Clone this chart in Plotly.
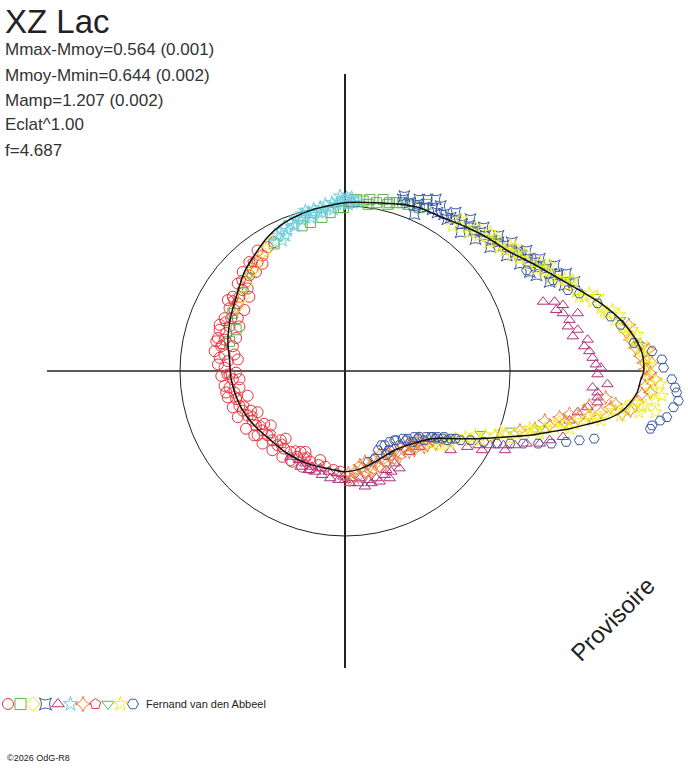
import plotly.graph_objects as go

W, H = 688, 768
FONT = "Liberation Sans, Arial, sans-serif"

# fitted mean curve, unit circle = mean magnitude
curve_x = [1.81, 1.80, 1.75, 1.67, 1.55, 1.42, 1.28, 1.14, 1.00, 0.86, 0.74, 0.59, 0.45, 0.33, 0.18, 0.00,
           -0.15, -0.27, -0.38, -0.47, -0.55, -0.61, -0.65, -0.69, -0.71, -0.70, -0.69, -0.65, -0.60, -0.53,
           -0.45, -0.35, -0.23, -0.11, 0.00, 0.10, 0.20, 0.30, 0.41, 0.53, 0.67, 0.82, 0.97, 1.12, 1.24, 1.36,
           1.48, 1.59, 1.67, 1.73, 1.77, 1.79, 1.81]
curve_y = [0.00, 0.11, 0.21, 0.31, 0.41, 0.49, 0.57, 0.65, 0.72, 0.81, 0.87, 0.93, 0.99, 1.01, 1.02, 1.02,
           0.99, 0.95, 0.89, 0.81, 0.70, 0.60, 0.48, 0.34, 0.19, 0.07, -0.05, -0.18, -0.27, -0.35,
           -0.42, -0.50, -0.56, -0.59, -0.61, -0.59, -0.54, -0.48, -0.44, -0.41, -0.41, -0.41, -0.40, -0.39, -0.37, -0.35,
           -0.32, -0.29, -0.25, -0.19, -0.13, -0.06, 0.00]

# observer series (open symbols)
red_circle_x = [-0.47, -0.50, -0.53, -0.56, -0.58, -0.60, -0.62, -0.64, -0.65, -0.67, -0.69, -0.70, -0.72, -0.73,
                -0.75, -0.73, -0.71, -0.73, -0.70, -0.68, -0.70, -0.67, -0.66, -0.64, -0.62, -0.59, -0.56, -0.54,
                -0.50, -0.47, -0.44, -0.41, -0.37, -0.33, -0.29, -0.25, -0.21, -0.16, -0.12, -0.07, -0.03, -0.59,
                -0.65, -0.68, -0.66, -0.64, -0.57, -0.49, -0.39, -0.27, -0.15, -0.77, -0.76, -0.71, -0.54, -0.43,
                -0.50, -0.67, -0.76, -0.72, -0.53, -0.33, -0.21,
                -0.53, -0.58, -0.62, -0.65, -0.68, -0.70, -0.73, -0.76, -0.78, -0.79, -0.77, -0.75, -0.73, -0.71,
                -0.68, -0.65, -0.60, -0.55, -0.50, -0.44, -0.38, -0.32, -0.26, -0.66, -0.64, -0.61, -0.58, -0.65,
                -0.64, -0.59, -0.53, -0.45, -0.36, -0.24]
red_circle_y = [0.75, 0.70, 0.66, 0.62, 0.58, 0.54, 0.49, 0.45, 0.41, 0.37, 0.32, 0.27, 0.23, 0.19,
                0.15, 0.10, 0.06, 0.02, -0.02, -0.05, -0.10, -0.13, -0.17, -0.21, -0.24, -0.27, -0.30, -0.33,
                -0.36, -0.39, -0.42, -0.45, -0.47, -0.49, -0.52, -0.53, -0.55, -0.57, -0.58, -0.60, -0.61, 0.50,
                0.32, 0.15, -0.01, -0.10, -0.24, -0.32, -0.42, -0.49, -0.54, 0.20, 0.28, 0.43, 0.60, 0.78,
                0.65, 0.10, 0.08, -0.13, -0.39, -0.54, -0.59,
                0.73, 0.66, 0.60, 0.53, 0.45, 0.38, 0.32, 0.25, 0.18, 0.12, 0.04, -0.03, -0.09, -0.16,
                -0.22, -0.28, -0.35, -0.39, -0.44, -0.48, -0.52, -0.55, -0.58, 0.20, 0.27, 0.37, 0.45, 0.07,
                -0.05, -0.15, -0.25, -0.33, -0.41, -0.49]

green_square_x = [-0.14, -0.09, -0.04, -0.01, 0.03, 0.07, 0.11, 0.15, 0.19, 0.23, 0.27, 0.31, 0.35, 0.38,
                  0.42, 0.45, 0.49, -0.21, -0.26, -0.43, -0.66, -0.68, -0.70, 0.14, 0.26]
green_square_y = [0.93, 0.96, 0.99, 0.99, 1.02, 1.04, 1.03, 1.04, 1.02, 1.04, 1.02, 1.02, 1.02, 1.01,
                  1.00, 0.99, 1.01, 0.90, 0.88, 0.77, 0.25, 0.35, 0.18, 1.01, 1.01]

yellow_diamond_x = [-0.45, -0.50, -0.54, -0.58, -0.60, -0.62, -0.65, -0.48, -0.55]
yellow_diamond_y = [0.78, 0.72, 0.66, 0.59, 0.53, 0.45, 0.39, 0.73, 0.62]

blue_starsq_x = [0.35, 0.39, 0.44, 0.48, 0.53, 0.56, 0.60, 0.64, 0.67, 0.71, 0.75, 0.78, 0.82, 0.85, 0.89,
                 0.93, 0.96, 1.00, 1.04, 1.07, 1.11, 1.15, 1.18, 1.22, 1.25, 1.29, 0.55, 0.62, 0.70, 0.79,
                 0.88, 0.98, 1.06, 1.12, 0.42, 0.50,
                 0.36, 0.45, 0.58, 0.67, 0.76, 0.84, 0.93, 1.01, 1.10, 1.18, 1.27, 1.34, 1.39, 1.24, 1.16, 1.33]
blue_starsq_y = [1.04, 1.02, 1.01, 0.99, 0.98, 0.96, 0.95, 0.93, 0.92, 0.89, 0.88, 0.85, 0.84, 0.82, 0.79,
                 0.78, 0.76, 0.74, 0.72, 0.70, 0.68, 0.66, 0.64, 0.62, 0.59, 0.58, 1.04, 0.92, 0.84, 0.80,
                 0.75, 0.70, 0.65, 0.60, 0.95, 1.04,
                 1.06, 1.04, 1.00, 0.96, 0.92, 0.87, 0.82, 0.78, 0.73, 0.68, 0.64, 0.59, 0.54, 0.54, 0.58, 0.52]

magenta_tri_x = [1.20, 1.27, 1.32, 1.28, 1.32, 1.41, 1.36, 1.35, 1.41, 1.38, 1.47, 1.45, 1.48, 1.50, 1.52,
                 1.55, 1.53, 1.59, 1.50, 1.53, 1.53, 1.53, 1.47, 1.41, 1.36,
                 0.74, 0.81, 0.88, 0.96, 1.03, 1.10, 1.18, 1.24, 1.32, 0.83, 0.97, 0.45, 0.39, 0.64,
                 -0.33, -0.28, -0.24, -0.20, -0.15, -0.10, -0.05, -0.01, 0.04, 0.09, 0.14, 0.19, 0.24, 0.28,
                 0.33, -0.18, -0.09, 0.00, 0.08, 0.16, 0.25, 0.30,
                 -0.27, -0.14, -0.04, 0.03, 0.12, 0.21, 0.27, -0.22]
magenta_tri_y = [0.42, 0.42, 0.40, 0.37, 0.35, 0.35, 0.31, 0.27, 0.25, 0.21, 0.19, 0.15, 0.12, 0.08, 0.04,
                 0.02, -0.02, -0.08, -0.10, -0.13, -0.16, -0.19, -0.22, -0.25, -0.30,
                 -0.46, -0.45, -0.45, -0.45, -0.45, -0.44, -0.44, -0.42, -0.40, -0.48, -0.48, -0.46, -0.49, -0.48,
                 -0.52, -0.54, -0.56, -0.58, -0.59, -0.61, -0.62, -0.64, -0.65, -0.65, -0.66, -0.65, -0.63, -0.61,
                 -0.59, -0.61, -0.65, -0.66, -0.68, -0.68, -0.60, -0.56,
                 -0.58, -0.63, -0.66, -0.68, -0.70, -0.67, -0.65, -0.60]

cyan_star_x = [-0.41, -0.37, -0.33, -0.30, -0.26, -0.22, -0.19, -0.15, -0.12, -0.08, -0.04, -0.01, 0.03, 0.07,
               -0.35, -0.27, -0.20, -0.13, -0.05, 0.02, -0.38, -0.31, -0.24, -0.16, -0.09, -0.02, 0.05, -0.42,
               -0.36, -0.30, -0.21, -0.14, -0.07, 0.01, -0.03, 0.04, -0.39, -0.24]
cyan_star_y = [0.82, 0.87, 0.90, 0.92, 0.95, 0.96, 0.98, 0.99, 1.01, 1.02, 1.03, 1.04, 1.04, 1.03,
               0.85, 0.92, 0.95, 0.98, 1.01, 1.01, 0.79, 0.88, 0.93, 0.96, 0.99, 1.02, 1.02, 0.78,
               0.82, 0.88, 0.93, 0.96, 0.98, 1.05, 1.06, 1.05, 0.85, 0.97]

orange_stardia_x = [0.02, 0.06, 0.10, 0.15, 0.19, 0.23, 0.27, 0.32, 0.36, 0.40, 0.44, 0.48, 0.53, 0.58,
                    0.08, 0.16, 0.25, 0.33, 0.42, 0.50, 0.12, 0.21, 0.30, 0.38, 0.45,
                    1.70, 1.73, 1.76, 1.79, 1.81, 1.82, 1.83, 1.82, 1.80, 1.77, 1.73, 1.68, 1.85, 1.86, 1.84,
                    1.06, 1.15, 1.24, 1.33, 1.41, 1.48, 1.55, 1.61, 1.21, 1.36, 1.48, 1.58,
                    0.03, 0.13, 0.21, 0.30, 0.39, 0.48, 0.55, 0.09, 0.18, 0.26,
                    1.88, 1.85, 1.79, 1.72, 1.64, 1.45, 1.30]
orange_stardia_y = [-0.62, -0.61, -0.59, -0.58, -0.56, -0.54, -0.52, -0.49, -0.47, -0.45, -0.44, -0.43, -0.42, -0.42,
                    -0.64, -0.61, -0.56, -0.52, -0.48, -0.45, -0.55, -0.51, -0.47, -0.44, -0.41,
                    0.24, 0.19, 0.14, 0.09, 0.05, 0.01, -0.04, -0.09, -0.14, -0.19, -0.24, -0.26, -0.01, 0.05, 0.13,
                    -0.36, -0.35, -0.33, -0.31, -0.29, -0.27, -0.25, -0.22, -0.30, -0.26, -0.21, -0.16,
                    -0.66, -0.62, -0.58, -0.53, -0.49, -0.46, -0.44, -0.57, -0.53, -0.49,
                    -0.05, -0.13, 0.16, 0.28, -0.20, -0.24, -0.28]

red_pentagon_x = [-0.65, -0.61, -0.56, -0.51, -0.45, -0.38, -0.30, -0.23, -0.72, -0.75, -0.73, -0.68, -0.63, -0.56]
red_pentagon_y = [-0.16, -0.21, -0.27, -0.33, -0.38, -0.44, -0.48, -0.52, -0.02, 0.16, 0.30, 0.43, 0.55, 0.66]

green_tridown_x = [0.76, 0.91, 1.06, 1.21, 1.36, 1.52, 1.67, 1.78, 0.64, 0.82, 1.00, 1.18, -0.58, -0.62]
green_tridown_y = [0.86, 0.79, 0.72, 0.63, 0.54, 0.45, 0.31, 0.16, -0.40, -0.38, -0.36, -0.35, 0.58, 0.49]

yellow_star_x = [0.75, 0.81, 0.87, 0.93, 0.97, 1.01, 1.06, 1.11, 1.16, 1.21, 1.25, 1.30, 1.35, 1.40, 1.45,
                 1.50, 1.55, 1.59, 1.64, 1.68, 1.72, 1.75, 1.79, 1.82, 0.88, 1.03, 1.18, 1.33, 1.48, 1.62,
                 1.74, 1.83, 0.65, 0.70,
                 1.84, 1.85, 1.86, 1.88, 1.82, 1.78, 1.91,
                 0.61, 0.67, 0.73, 0.79, 0.85, 0.91, 0.97, 1.03, 1.09, 1.15, 1.21, 1.27, 1.33, 1.39, 1.45,
                 1.52, 1.58, 1.64, 1.70, 1.75, 0.76, 0.94, 1.12, 1.30, 1.48, 0.58, 0.52,
                 0.79, 0.91, 1.00, 1.09, 1.24, 1.38, 1.53, 1.66, 1.77, 1.42, 1.57,
                 0.64, 0.82, 1.00, 1.18, 1.36, 1.55, 1.67, 1.80, 1.88, 1.92]
yellow_star_y = [0.84, 0.82, 0.78, 0.75, 0.73, 0.70, 0.68, 0.65, 0.62, 0.60, 0.57, 0.55, 0.52, 0.48, 0.45,
                 0.42, 0.38, 0.35, 0.31, 0.27, 0.22, 0.18, 0.13, 0.08, 0.84, 0.75, 0.66, 0.56, 0.47, 0.37,
                 0.25, 0.14, 0.88, 0.92,
                 0.04, -0.04, -0.12, -0.18, -0.21, -0.25, -0.08,
                 -0.42, -0.41, -0.40, -0.39, -0.39, -0.39, -0.38, -0.38, -0.37, -0.36, -0.35, -0.34, -0.33, -0.32, -0.30,
                 -0.28, -0.26, -0.24, -0.22, -0.19, -0.42, -0.37, -0.35, -0.31, -0.27, -0.45, -0.44,
                 0.87, 0.81, 0.76, 0.71, 0.64, 0.55, 0.45, 0.34, 0.22, 0.45, 0.36,
                 -0.44, -0.42, -0.41, -0.38, -0.35, -0.30, -0.27, -0.22, -0.25, -0.15]

blue_hexagon_x = [1.10, 1.26, 1.35, 1.42, 1.53, 1.61, 1.67, 1.75, 1.86, 1.92, 1.93, 1.98, 2.00, 2.01, 2.02,
                  1.99, 1.95, 1.91, 1.86, 1.85,
                  0.84, 0.92, 1.00, 1.08, 1.17, 1.25, 1.34, 1.42, 1.51,
                  0.20, 0.24, 0.27, 0.31, 0.35, 0.38, 0.42, 0.45, 0.49, 0.53, 0.56, 0.60, 0.64, 0.67,
                  0.27, 0.33, 0.41, 0.48, 0.55, 0.62, 0.25,
                  0.22, 0.30, 0.37, 0.44, 0.52, 0.59, 0.70, 0.76, 0.18, 0.14]
blue_hexagon_y = [0.61, 0.55, 0.49, 0.47, 0.41, 0.33, 0.28, 0.17, 0.12, 0.07, 0.02, -0.05, -0.10, -0.13, -0.18,
                  -0.22, -0.28, -0.30, -0.33, -0.35,
                  -0.43, -0.44, -0.44, -0.44, -0.44, -0.44, -0.43, -0.42, -0.41,
                  -0.48, -0.45, -0.43, -0.42, -0.41, -0.41, -0.40, -0.40, -0.40, -0.40, -0.40, -0.40, -0.41, -0.41,
                  -0.48, -0.45, -0.43, -0.42, -0.41, -0.42, -0.51,
                  -0.45, -0.42, -0.42, -0.41, -0.40, -0.41, -0.42, -0.42, -0.53, -0.55]

AXIS_HALF = 1.806      # half length of the cross lines, in circle radii
observer = "Fernand van den Abbeel"
stats = ["Mmax-Mmoy=0.564 (0.001)", "Mmoy-Mmin=0.644 (0.002)", "Mamp=1.207 (0.002)", "Eclat^1.00", "f=4.687"]

series = [
    ("circle-open", "#e8323a", 11, red_circle_x, red_circle_y),
    ("square-open", "#5cb848", 10, green_square_x, green_square_y),
    ("diamond-open", "#f2ee1e", 10, yellow_diamond_x, yellow_diamond_y),
    ("star-square-open", "#3a58a8", 10, blue_starsq_x, blue_starsq_y),
    ("triangle-up-open", "#b0307c", 10, magenta_tri_x, magenta_tri_y),
    ("star-open", "#6ccfe0", 10, cyan_star_x, cyan_star_y),
    ("star-diamond-open", "#f07e30", 10, orange_stardia_x, orange_stardia_y),
    ("pentagon-open", "#e8323a", 10, red_pentagon_x, red_pentagon_y),
    ("triangle-down-open", "#5cb848", 9, green_tridown_x, green_tridown_y),
    ("star-open", "#f2ee1e", 10, yellow_star_x, yellow_star_y),
    ("hexagon2-open", "#3a58a8", 10, blue_hexagon_x, blue_hexagon_y),
]

fig = go.Figure()

for sym, col, sz, xs, ys in series:
    fig.add_trace(go.Scatter(x=xs, y=ys, mode="markers", cliponaxis=False,
                             marker=dict(symbol=sym, size=sz, color=col, line=dict(width=1, color=col)),
                             hoverinfo="skip"))

fig.add_trace(go.Scatter(x=curve_x, y=curve_y, mode="lines",
                         line=dict(color="#111", width=1.5, shape="spline", smoothing=0.8),
                         cliponaxis=False, hoverinfo="skip"))

# little symbol strip under the chart
fig.add_trace(go.Scatter(x=list(range(len(series))), y=[0] * len(series), mode="markers",
                         xaxis="x2", yaxis="y2", cliponaxis=False,
                         marker=dict(symbol=[s[0] for s in series], color=[s[1] for s in series], size=11,
                                     line=dict(width=1, color=[s[1] for s in series])),
                         hoverinfo="skip"))

# mean level circle and horizontal axis
fig.add_shape(type="circle", xref="x", yref="y", x0=-1, y0=-1, x1=1, y1=1,
              line=dict(color="#222", width=1), layer="below")
fig.add_shape(type="line", xref="x", yref="y", x0=-AXIS_HALF, y0=0, x1=AXIS_HALF, y1=0,
              line=dict(color="#222", width=1.5), layer="below")

noaxis = dict(showgrid=False, showticklabels=False, ticks="", showline=False)
fig.update_layout(
    width=W, height=H, margin=dict(l=0, r=0, t=0, b=0),
    paper_bgcolor="white", plot_bgcolor="white", showlegend=False,
    xaxis=dict(range=[-AXIS_HALF, 2.06], domain=[47 / W, 685 / W], zeroline=True,
               zerolinecolor="#222", zerolinewidth=1.5, **noaxis),
    yaxis=dict(range=[-1.8, 1.8], domain=[(H - 668) / H, (H - 74) / H], zeroline=False, **noaxis),
    xaxis2=dict(range=[-0.64, 10.37], domain=[0, 0.2], anchor="y2", zeroline=False, **noaxis),
    yaxis2=dict(range=[-1, 1], domain=[(H - 716) / H, (H - 692) / H], anchor="x2", zeroline=False, **noaxis),
)

fig.add_annotation(text="XZ Lac", xref="paper", yref="paper", x=3 / W, y=1 - 21 / H,
                   xanchor="left", yanchor="middle", showarrow=False,
                   font=dict(family=FONT, size=33, color="#222"))
for i, s in enumerate(stats):
    fig.add_annotation(text=s, xref="paper", yref="paper", x=3 / W, y=1 - (50 + 25 * i) / H,
                       xanchor="left", yanchor="middle", showarrow=False,
                       font=dict(family=FONT, size=17, color="#333"))

fig.add_annotation(text="Provisoire", xref="paper", yref="paper", x=612 / W, y=1 - 619 / H,
                   xanchor="center", yanchor="middle",
                   textangle=-45, showarrow=False, font=dict(family=FONT, size=24, color="#222"))
fig.add_annotation(text=observer, xref="paper", yref="paper", x=144 / W, y=1 - 704 / H,
                   xanchor="left", yanchor="middle", showarrow=False,
                   font=dict(family=FONT, size=11, color="#222"))
fig.add_annotation(text="©2026 OdG-R8", xref="paper", yref="paper", x=5 / W, y=1 - 758 / H,
                   xanchor="left", yanchor="middle", showarrow=False,
                   font=dict(family=FONT, size=9, color="#222"))

fig.write_html("out.html", config={"displayModeBar": False},
               post_script="document.body.style.margin='0';")
